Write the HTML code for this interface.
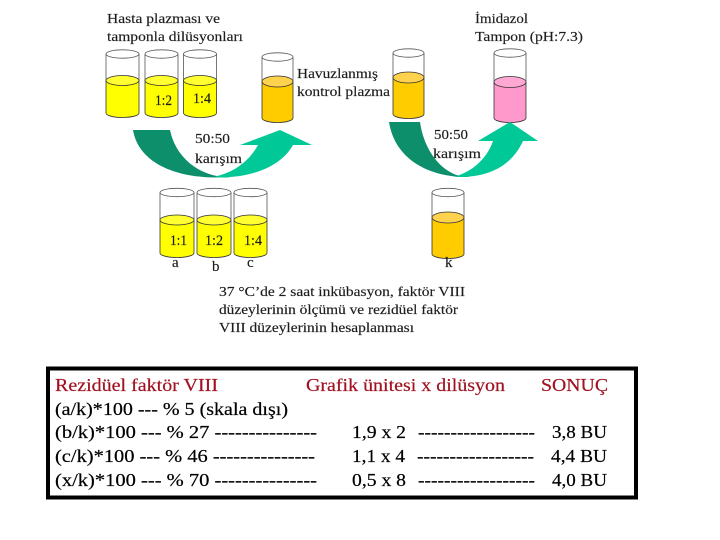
<!DOCTYPE html>
<html>
<head>
<meta charset="utf-8">
<style>
html,body{margin:0;padding:0;background:#fff;width:720px;height:540px;overflow:hidden}
svg{display:block}
text{font-family:"Liberation Serif",serif}
.d text{font-size:13.5px;fill:#1c1c1c;stroke:#1c1c1c;stroke-width:0.15px}
.d text.n{font-size:15px}
.t text{font-size:18px;fill:#000;stroke:#000;stroke-width:0.2px}
.t text.r{fill:#a01222;stroke:#a01222}
</style>
</head>
<body>
<svg width="720" height="540" viewBox="0 0 720 540" xmlns="http://www.w3.org/2000/svg">
<defs>
<filter id="b" x="-5%" y="-5%" width="110%" height="110%"><feGaussianBlur stdDeviation="0.35"/></filter>
</defs>
<g filter="url(#b)" stroke="#333" stroke-width="0.8">
<g fill="#ffff00">
<path d="M106 80.5V113A16.5 4.5 0 0 0 139 113V80.5Z"/><ellipse cx="122.5" cy="80.5" rx="16.5" ry="5" fill="#ffff33"/>
<path d="M145 80.5V113A16.5 4.5 0 0 0 178 113V80.5Z"/><ellipse cx="161.5" cy="80.5" rx="16.5" ry="5" fill="#ffff33"/>
<path d="M183.500 80.5V113A16.5 4.5 0 0 0 216.500 113V80.5Z"/><ellipse cx="200" cy="80.5" rx="16.5" ry="5" fill="#ffff33"/>
<path d="M160 220V253A17 4.500 0 0 0 194 253V220Z"/><ellipse cx="177" cy="220" rx="17" ry="5" fill="#ffff33"/>
<path d="M197 220V253A17 4.500 0 0 0 231 253V220Z"/><ellipse cx="214" cy="220" rx="17" ry="5" fill="#ffff33"/>
<path d="M234 220V253A16.5 4.500 0 0 0 267 253V220Z"/><ellipse cx="250.500" cy="220" rx="16.500" ry="5" fill="#ffff33"/>
</g>
<g fill="#ffcc00">
<path d="M262 81.500V118A15.500 4.500 0 0 0 293 118V81.500Z"/><ellipse cx="277.500" cy="81.500" rx="15.500" ry="5.500" fill="#ffd24d"/>
<path d="M393 77.500V114A15.500 4.500 0 0 0 424 114V77.500Z"/><ellipse cx="408.500" cy="77.500" rx="15.500" ry="5.500" fill="#ffd24d"/>
<path d="M432 217.500V254A16 4.500 0 0 0 464 254V217.500Z"/><ellipse cx="448" cy="217.500" rx="16" ry="5.500" fill="#ffd24d"/>
</g>
<path d="M494 82V118A16 4.500 0 0 0 526 118V82Z" fill="#ff99cc"/><ellipse cx="510" cy="82" rx="16" ry="5.500" fill="#ffa8d4"/>
<g fill="none" stroke="#555">
<path d="M106 54V80M139 54V80"/><ellipse cx="122.500" cy="54" rx="16.500" ry="4.200" fill="#fff"/>
<path d="M145 54V80M178 54V80"/><ellipse cx="161.500" cy="54" rx="16.500" ry="4.200" fill="#fff"/>
<path d="M183.500 54V80M216.500 54V80"/><ellipse cx="200" cy="54" rx="16.500" ry="4.200" fill="#fff"/>
<path d="M262 57V81M293 57V81"/><ellipse cx="277.500" cy="57" rx="15.500" ry="4.200" fill="#fff"/>
<path d="M393 53V77M424 53V77"/><ellipse cx="408.500" cy="53" rx="15.500" ry="4.200" fill="#fff"/>
<path d="M494 53V82M526 53V82"/><ellipse cx="510" cy="53" rx="16" ry="4.200" fill="#fff"/>
<path d="M160 192.500V220M194 192.500V220"/><ellipse cx="177" cy="192.500" rx="17" ry="4.200" fill="#fff"/>
<path d="M197 192.500V220M231 192.500V220"/><ellipse cx="214" cy="192.500" rx="17" ry="4.200" fill="#fff"/>
<path d="M234 192.500V220M267 192.500V220"/><ellipse cx="250.500" cy="192.500" rx="16.500" ry="4.200" fill="#fff"/>
<path d="M432 192.500V217M464 192.500V217"/><ellipse cx="448" cy="192.500" rx="16" ry="4.200" fill="#fff"/>
</g>
<g stroke="none">
<path d="M133 130H170C175 155 195 172 217 176C240 178 225 177.500 215 177.500C170 177 138 160 133 130Z" fill="#0b8f6c"/>
<path d="M217 176C235 172 250 160 258 145H240L280 130L312 145H293C280 168 250 178 215 177.500Z" fill="#00c896"/>
<path d="M389 122H420C424 150 440 170 458 175.500L470 177C430 178 395 160 389 122Z" fill="#0b8f6c"/>
<path d="M458 175.500C475 170 488 156 493 141H478L510 122L538 141H523C512 165 490 178 455 177Z" fill="#00c896"/>
</g>
</g>
<g class="d" filter="url(#b)">
<text x="107" y="23" textLength="113" lengthAdjust="spacingAndGlyphs">Hasta plazması ve</text>
<text x="107" y="41" textLength="136" lengthAdjust="spacingAndGlyphs">tamponla dilüsyonları</text>
<text x="297" y="78" textLength="81" lengthAdjust="spacingAndGlyphs">Havuzlanmış</text>
<text x="297" y="96" textLength="93" lengthAdjust="spacingAndGlyphs">kontrol plazma</text>
<text x="195" y="143" textLength="35" lengthAdjust="spacingAndGlyphs">50:50</text>
<text x="195" y="163" textLength="47" lengthAdjust="spacingAndGlyphs">karışım</text>
<text class="n" x="155" y="105" textLength="17" lengthAdjust="spacingAndGlyphs">1:2</text>
<text class="n" x="193" y="103" textLength="18" lengthAdjust="spacingAndGlyphs">1:4</text>
<text x="475" y="23" textLength="53" lengthAdjust="spacingAndGlyphs">İmidazol</text>
<text x="475" y="41" textLength="108" lengthAdjust="spacingAndGlyphs">Tampon (pH:7.3)</text>
<text x="434" y="139" textLength="34" lengthAdjust="spacingAndGlyphs">50:50</text>
<text x="433" y="158" textLength="48" lengthAdjust="spacingAndGlyphs">karışım</text>
<text class="n" x="170" y="245" textLength="17" lengthAdjust="spacingAndGlyphs">1:1</text>
<text class="n" x="205" y="245" textLength="18" lengthAdjust="spacingAndGlyphs">1:2</text>
<text class="n" x="244" y="245" textLength="18" lengthAdjust="spacingAndGlyphs">1:4</text>
<text class="n" x="172" y="267">a</text>
<text class="n" x="212" y="271">b</text>
<text class="n" x="247" y="267">c</text>
<text class="n" x="445" y="267">k</text>
<text x="219" y="296" textLength="246" lengthAdjust="spacingAndGlyphs">37 °C’de 2 saat inkübasyon, faktör VIII</text>
<text x="219" y="314" textLength="239" lengthAdjust="spacingAndGlyphs">düzeylerinin ölçümü ve rezidüel faktör</text>
<text x="219" y="332" textLength="195" lengthAdjust="spacingAndGlyphs">VIII düzeylerinin hesaplanması</text>
</g>
<rect x="48" y="368.500" width="588" height="129" fill="#fff" stroke="#000" stroke-width="4"/>
<g class="t">
<text class="r" x="55" y="391" textLength="163" lengthAdjust="spacingAndGlyphs">Rezidüel faktör VIII</text>
<text class="r" x="306" y="391" textLength="199" lengthAdjust="spacingAndGlyphs">Grafik ünitesi x dilüsyon</text>
<text class="r" x="541" y="391" textLength="67" lengthAdjust="spacingAndGlyphs">SONUÇ</text>
<text x="55" y="415" textLength="233" lengthAdjust="spacingAndGlyphs">(a/k)*100 --- % 5 (skala dışı)</text>
<text x="55" y="438" textLength="262" lengthAdjust="spacingAndGlyphs">(b/k)*100 --- % 27 ---------------</text>
<text x="55" y="462" textLength="260" lengthAdjust="spacingAndGlyphs">(c/k)*100 --- % 46 ---------------</text>
<text x="55" y="486" textLength="262" lengthAdjust="spacingAndGlyphs">(x/k)*100 --- % 70 ---------------</text>
<text x="352" y="438" textLength="54" lengthAdjust="spacingAndGlyphs">1,9 x 2</text>
<text x="418" y="438" textLength="117" lengthAdjust="spacingAndGlyphs">------------------</text>
<text x="552" y="438" textLength="55" lengthAdjust="spacingAndGlyphs">3,8 BU</text>
<text x="352" y="462" textLength="53" lengthAdjust="spacingAndGlyphs">1,1 x 4</text>
<text x="417" y="462" textLength="117" lengthAdjust="spacingAndGlyphs">------------------</text>
<text x="551" y="462" textLength="56" lengthAdjust="spacingAndGlyphs">4,4 BU</text>
<text x="352" y="486" textLength="54" lengthAdjust="spacingAndGlyphs">0,5 x 8</text>
<text x="418" y="486" textLength="117" lengthAdjust="spacingAndGlyphs">------------------</text>
<text x="552" y="486" textLength="55" lengthAdjust="spacingAndGlyphs">4,0 BU</text>
</g>
</svg>
</body>
</html>
